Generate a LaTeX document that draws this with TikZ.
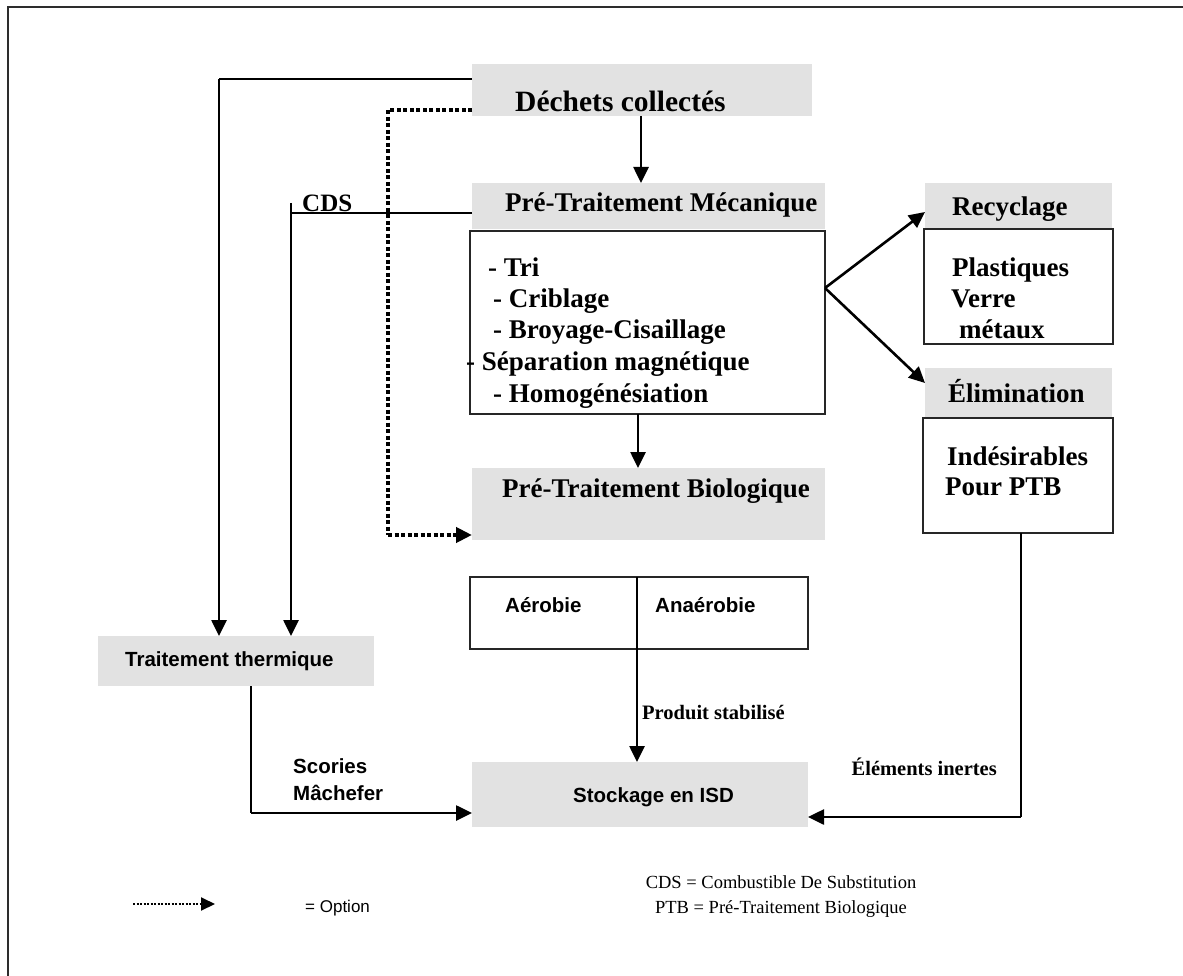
\documentclass[tikz,border=0pt]{standalone}
\usepackage{fontspec}
\setmainfont{Liberation Serif}
\newfontfamily\arialfont{Liberation Sans}
\usetikzlibrary{arrows.meta}
\definecolor{boxgray}{RGB}{226,226,226}
\definecolor{framegray}{RGB}{45,45,45}
\tikzset{
  graybox/.style={fill=boxgray, draw=none, inner sep=0pt, outer sep=0pt},
  whitebox/.style={draw=black!85, line width=2pt, fill=white, inner sep=0pt, outer sep=0pt},
  sb/.style={font=\fontsize{27}{30}\selectfont\bfseries, inner sep=0pt, anchor=base west},
  bigsb/.style={font=\fontsize{29.5}{32}\selectfont\bfseries, inner sep=0pt, anchor=base west},
  smb/.style={font=\fontsize{20.5}{24}\selectfont\bfseries, inner sep=0pt},
  cdsf/.style={font=\fontsize{25}{28}\selectfont\bfseries, inner sep=0pt, anchor=base west},
  ar/.style={font=\fontsize{20.5}{24}\selectfont\arialfont\bfseries, inner sep=0pt, anchor=base west},
  leg/.style={font=\fontsize{18.5}{22}\selectfont, inner sep=0pt, anchor=base},
  legar/.style={font=\fontsize{17}{20}\selectfont\arialfont, inner sep=0pt, anchor=base west},
  thinl/.style={line width=1.5pt},
  arr/.style={line width=2.6pt, -{Triangle[length=16pt,width=15pt]}},
  dotl/.style={line width=4pt, dash pattern=on 4pt off 2.5pt},
  dotarr/.style={line width=4pt, dash pattern=on 4pt off 2.5pt, -{Triangle[length=16pt,width=15pt]}},
  legdot/.style={line width=2pt, dash pattern=on 2pt off 1.5pt, -{Triangle[length=14pt,width=13pt]}}
}
\begin{document}
\begin{tikzpicture}[x=1pt,y=-1pt]
\useasboundingbox (0,0) rectangle (1183,976);
\fill[white] (0,0) rectangle (1183,976);
\draw[framegray, line width=2pt] (8,976) -- (8,7) -- (1183,7);

% boxes
\node[graybox, minimum width=340pt, minimum height=52pt] (dc) at (642,90) {};
\node[graybox, minimum width=353pt, minimum height=46pt] (ptm) at (648.5,206) {};
\node[whitebox, minimum width=355pt, minimum height=183pt] (ptmw) at (647.5,322.5) {};
\node[graybox, minimum width=353pt, minimum height=72pt] (ptb) at (648.5,504) {};
\node[whitebox, minimum width=338pt, minimum height=72pt] (ae) at (639,613) {};
\node[graybox, minimum width=336pt, minimum height=65pt] (st) at (640,794.5) {};
\node[graybox, minimum width=276pt, minimum height=50pt] (tt) at (236,661) {};
\node[graybox, minimum width=187pt, minimum height=45pt] (rec) at (1018.5,205.5) {};
\node[whitebox, minimum width=189pt, minimum height=115pt] (recw) at (1018.5,286.5) {};
\node[graybox, minimum width=187pt, minimum height=50pt] (elim) at (1018.5,393) {};
\node[whitebox, minimum width=190pt, minimum height=115pt] (elimw) at (1018,475.5) {};

% texts
\node[bigsb] (dct) at (515,112) {Déchets collectés};
\node[sb] (ptmt) at (505,212) {Pré-Traitement Mécanique};
\node[sb] (l1) at (488,277) {- Tri};
\node[sb] (l2) at (493,307) {- Criblage};
\node[sb] (l3) at (493,338) {- Broyage-Cisaillage};
\node[sb] (l4) at (466,370) {- Séparation magnétique};
\node[sb] (l5) at (493,402) {- Homogénésiation};
\node[sb] (ptbt) at (502,497) {Pré-Traitement Biologique};
\node[sb] (rect) at (952,216) {Recyclage};
\node[sb] (r1) at (952,277) {Plastiques};
\node[sb] (r2) at (951,308) {Verre};
\node[sb] (r3) at (959,338) {métaux};
\node[sb] (elimt) at (948,402) {Élimination};
\node[sb] (e1) at (947,465) {Indésirables};
\node[sb] (e2) at (945,495) {Pour PTB};
\node[ar] (aet) at (505,612) {Aérobie};
\node[ar] (ant) at (655,612) {Anaérobie};
\node[ar] (stt) at (573,802) {Stockage en ISD};
\node[ar] (ttt) at (125,666) {Traitement thermique};
\node[ar] (sco) at (293,773) {Scories};
\node[ar] (mac) at (293,800) {Mâchefer};
\node[smb, anchor=base west] (prod) at (642,719) {Produit stabilisé};
\node[smb, anchor=base east] (inert) at (997,775) {Éléments inertes};
\node[cdsf] (cds) at (302,212) {CDS};

% connectors
\draw[arr] (dc.south -| 641,0) -- (ptm.north -| 641,0);
\coordinate (tl) at (219,79);
\draw[thinl] (dc.west |- tl) -- (tl);
\draw[arr] (tl) -- (tl |- tt.north);
\coordinate (dv) at (388,110);
\coordinate (dh) at (388,535);
\draw[dotl] (dc.west |- dv) -- (dv) -- (dh);
\draw[dotarr] (dh) -- (dh -| ptb.west);
\coordinate (cl) at (291,213);
\coordinate (ct) at (291,203);
\draw[thinl] (ptm.west |- cl) -- (cl);
\draw[arr] (ct) -- (ct |- tt.north);
\draw[arr] (ptmw.south -| 638,0) -- (ptb.north -| 638,0);
\coordinate (br) at (825,288);
\draw[arr] (br) -- (rec.west |- 0,212);
\draw[arr] (br) -- (elim.west |- 0,383);
\draw[thinl] (ae.north -| 637,0) -- (ae.south -| 637,0);
\draw[arr] (ae.south -| 637,0) -- (st.north -| 637,0);
\coordinate (tb) at (251,813);
\draw[thinl] (tt.south -| tb) -- (tb);
\draw[arr] (tb) -- (st.west |- tb);
\coordinate (eb) at (1021,817);
\draw[thinl] (elimw.south -| eb) -- (eb);
\draw[arr] (eb) -- (st.east |- eb);

% legend
\coordinate (lg1) at (133,904);
\coordinate (lg2) at (215,904);
\draw[legdot] (lg1) -- (lg2);
\node[legar] (opt) at (305,912) {= Option};
\node[leg] (leg1) at (781,888) {CDS = Combustible De Substitution};
\node[leg] (leg2) at (781,913) {PTB = Pré-Traitement Biologique};
\end{tikzpicture}
\end{document}
